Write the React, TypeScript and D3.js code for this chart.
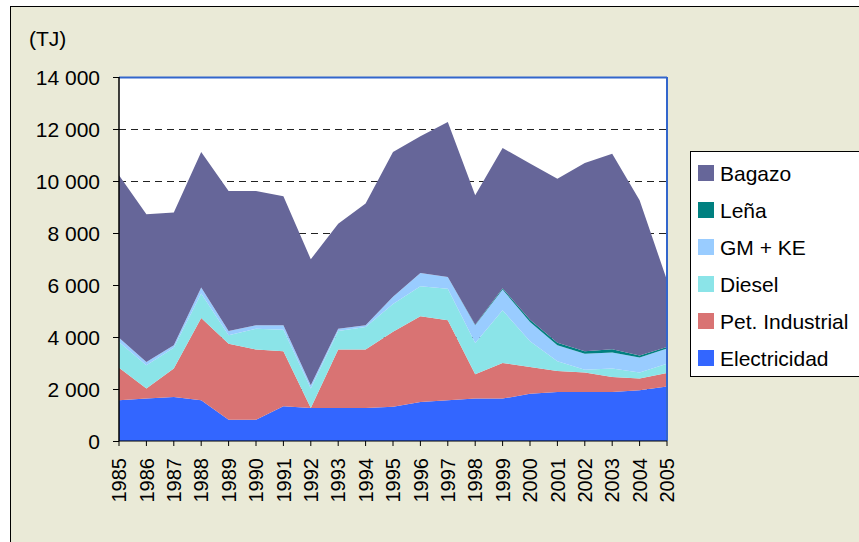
import React from "react";
import * as d3 from "d3";

const years = [1985,1986,1987,1988,1989,1990,1991,1992,1993,1994,1995,1996,1997,1998,1999,2000,2001,2002,2003,2004,2005];
const electricidad = [1570,1630,1690,1570,820,820,1335,1270,1270,1270,1320,1500,1565,1630,1630,1820,1885,1885,1885,1950,2100];
const petIndustrial = [1250,385,1095,3160,2925,2695,2115,0,2245,2245,2880,3295,3075,935,1370,1030,805,745,575,450,515];
const diesel = [990,895,805,940,320,805,830,745,715,870,1070,1155,1220,1205,2025,985,375,115,325,230,360];
const gmKe = [165,130,90,230,165,130,170,125,90,65,280,510,450,680,800,745,615,615,615,580,580];
const lena = [0,0,0,0,0,0,0,0,0,0,0,0,0,25,50,80,100,90,130,80,60];
const bagazo = [6245,5680,5105,5215,5385,5165,4960,4850,4040,4680,5570,5260,5960,4975,5395,6010,6310,7240,7520,5970,2565];

const seriesNames = ["Electricidad","Pet. Industrial","Diesel","GM + KE","Leña","Bagazo"];
const seriesColors = ["#3366FF","#D97373","#8BE4E8","#99CCFF","#008080","#666699"];
const yTicks = [0,2000,4000,6000,8000,10000,12000,14000];
const yLabel = "(TJ)";

export default function App() {
  const W = 859, H = 542;
  const left = 119, right = 667, top = 77, bottom = 441;
  const x = d3.scaleLinear().domain([years[0], years[years.length - 1]]).range([left, right]);
  const y = d3.scaleLinear().domain([0, 14000]).range([bottom, top]);
  const allSeries = [electricidad, petIndustrial, diesel, gmKe, lena, bagazo];
  const table = years.map((yr, i) => {
    const row: any = { year: yr };
    seriesNames.forEach((n, k) => (row[n] = allSeries[k][i]));
    return row;
  });
  const stacked = d3.stack<any>().keys(seriesNames)(table);
  const area = d3.area<any>()
    .x((d) => x(d.data.year))
    .y0((d) => y(d[0]))
    .y1((d) => y(d[1]));
  const fmt = (v: number) => d3.format(",")(v).replace(/,/g, " ");
  const font = "'Liberation Sans', Arial, sans-serif";
  const legendOrder = [5, 4, 3, 2, 1, 0];

  return (
    <svg width={W} height={H} style={{ position: "fixed", left: 0, top: 0 }} fontFamily={font}>
      <rect x={0} y={0} width={W} height={H} fill="#ffffff" />
      <rect x={10.5} y={6.5} width={W + 10} height={H + 10} fill="#EAEAD7" stroke="#000" strokeWidth={1} />
      <rect x={left} y={top} width={right - left} height={bottom - top} fill="#ffffff" />
      {yTicks.filter((t) => t > 0 && t < 14000).map((t) => (
        <line key={"g" + t} x1={left} x2={right} y1={Math.round(y(t)) + 0.5} y2={Math.round(y(t)) + 0.5} stroke="#222" strokeWidth={1} strokeDasharray="7,5" />
      ))}
      {stacked.map((s, k) => (
        <path key={s.key} d={area(s) || ""} fill={seriesColors[k]} />
      ))}
      <line x1={left} x2={right} y1={top + 0.5} y2={top + 0.5} stroke="#3366CC" strokeWidth={2} />
      <line x1={right} x2={right} y1={top} y2={bottom} stroke="#3366CC" strokeWidth={2} />
      <line x1={left} x2={left} y1={top} y2={bottom} stroke="#000" strokeWidth={1.5} />
      <line x1={left} x2={right} y1={bottom} y2={bottom} stroke="#000" strokeWidth={1} />
      {yTicks.map((t) => (
        <g key={"y" + t}>
          <line x1={113} x2={left} y1={Math.round(y(t)) + 0.5} y2={Math.round(y(t)) + 0.5} stroke="#000" />
          <text x={100} y={y(t)} dy="0.36em" textAnchor="end" fontSize={21} fill="#000">{fmt(t)}</text>
        </g>
      ))}
      {years.map((yr) => (
        <g key={"x" + yr}>
          <line x1={x(yr)} x2={x(yr)} y1={bottom} y2={bottom + 5} stroke="#000" />
          <text transform={`translate(${x(yr)},458) rotate(-90)`} dy="0.36em" textAnchor="end" fontSize={20} fill="#000">{yr}</text>
        </g>
      ))}
      <text x={29} y={46} fontSize={21} fill="#000">{yLabel}</text>
      <rect x={690.5} y={151.5} width={200} height={225} fill="#ffffff" stroke="#000" strokeWidth={1} />
      {legendOrder.map((k, i) => (
        <g key={"l" + k}>
          <rect x={698} y={165 + i * 37} width={16} height={16} fill={seriesColors[k]} />
          <text x={720} y={173 + i * 37} dy="0.36em" fontSize={21} fill="#000">{seriesNames[k]}</text>
        </g>
      ))}
    </svg>
  );
}
